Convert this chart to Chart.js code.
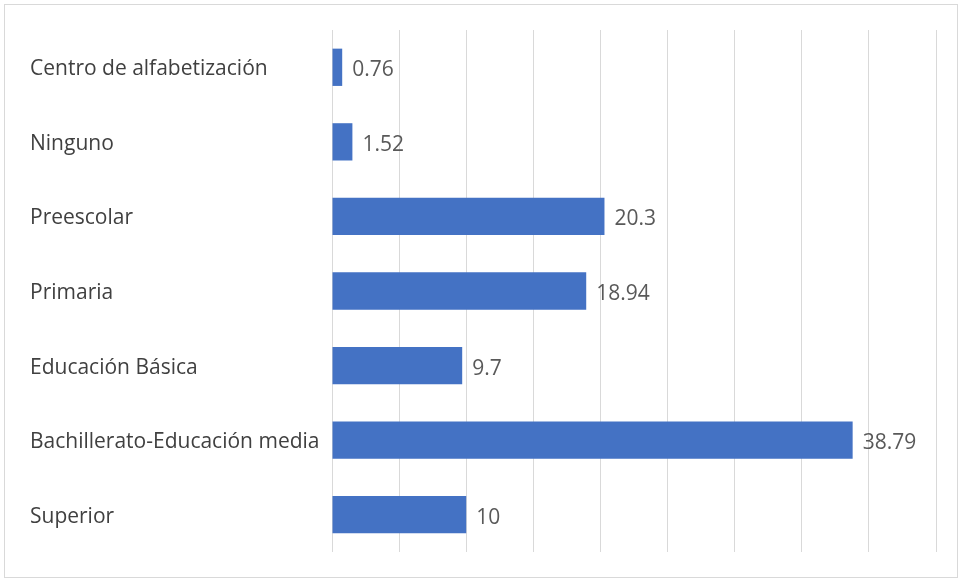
<!DOCTYPE html>
<html>
<head>
<meta charset="utf-8">
<script src="https://cdn.jsdelivr.net/npm/chart.js@4"></script>
<style>
  html, body { margin: 0; padding: 0; background: #fff; }
  #wrap { position: relative; width: 962px; height: 581px; }
</style>
</head>
<body>
<div id="wrap"><canvas id="chart"></canvas></div>
<script>
const categories = [
  "Centro de alfabetización",
  "Ninguno",
  "Preescolar",
  "Primaria",
  "Educación Básica",
  "Bachillerato-Educación media",
  "Superior"
];
const values = [0.76, 1.52, 20.3, 18.94, 9.7, 38.79, 10];
const axisMax = 45;
const axisStep = 5;

const FONT = "'Open Sans', 'Noto Sans', sans-serif";

// frame around the whole chart
const framePlugin = {
  id: "frame",
  beforeDraw(chart) {
    const ctx = chart.ctx;
    ctx.save();
    ctx.fillStyle = "#fff";
    ctx.fillRect(0, 0, chart.width, chart.height);
    ctx.strokeStyle = "#d9d9d9";
    ctx.lineWidth = 1;
    ctx.strokeRect(4.5, 4.5, chart.width - 9, chart.height - 8);
    ctx.restore();
  }
};

// value labels after each bar
const valueLabels = {
  id: "valueLabels",
  afterDatasetsDraw(chart) {
    const ctx = chart.ctx;
    const meta = chart.getDatasetMeta(0);
    ctx.save();
    ctx.font = "21px " + FONT;
    ctx.fillStyle = "#595959";
    ctx.textBaseline = "middle";
    ctx.textAlign = "left";
    meta.data.forEach((bar, i) => {
      ctx.fillText(String(values[i]), bar.x + 10, bar.y + 3);
    });
    ctx.restore();
  }
};

new Chart(document.getElementById("chart"), {
  type: "bar",
  data: {
    labels: categories,
    datasets: [{
      data: values,
      backgroundColor: "#4472C4",
      borderWidth: 0,
      barPercentage: 0.5,
      categoryPercentage: 1
    }]
  },
  options: {
    indexAxis: "y",
    responsive: true,
    maintainAspectRatio: false,
    animation: false,
    layout: { padding: { left: 30, top: 30, right: 26, bottom: 29 } },
    plugins: {
      legend: { display: false },
      tooltip: { enabled: false }
    },
    scales: {
      x: {
        min: 0,
        max: axisMax,
        ticks: { display: false, stepSize: axisStep },
        grid: { color: "#d9d9d9", drawTicks: false, lineWidth: 1 },
        border: { display: false }
      },
      y: {
        grid: { display: false },
        border: { display: false },
        ticks: {
          crossAlign: "far",
          color: "#404040",
          font: { family: FONT, size: 21 },
          padding: 0,
          labelOffset: 2
        },
        afterFit(scale) { scale.width = 302; }
      }
    }
  },
  plugins: [framePlugin, valueLabels]
});
</script>
</body>
</html>
